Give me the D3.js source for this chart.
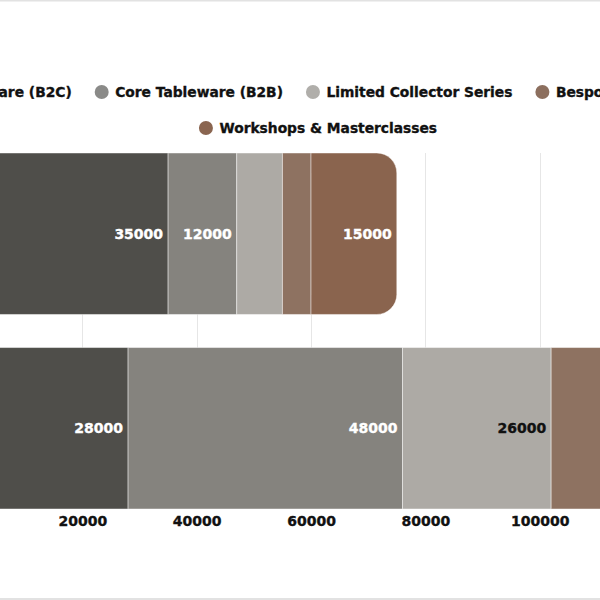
<!DOCTYPE html>
<html>
<head>
<meta charset="utf-8">
<script src="https://cdn.jsdelivr.net/npm/d3@7"></script>
<style>
  html, body { margin: 0; padding: 0; background: #ffffff; overflow: hidden; }
  svg { display: block; }
  text { font-family: "DejaVu Sans", Verdana, sans-serif; font-weight: bold; }
</style>
</head>
<body>
<svg id="chart" width="600" height="600"></svg>
<script>
// ---- data ----
const categories = ["2023", "2024"];
const seriesNames = [
  "Core Tableware (B2C)",
  "Core Tableware (B2B)",
  "Limited Collector Series",
  "Bespoke Wedding Orders",
  "Workshops & Masterclasses"
];
const seriesColors = ["#4f4e4a", "#85837e", "#adaaa5", "#8e7261", "#8a644e"];
const legendColors = ["#4f4e4a", "#8a8a88", "#b0aeaa", "#8c6f5e", "#8a6550"];
const labelColors = ["#ffffff", "#ffffff", "#111111", "#ffffff", "#ffffff"];
const values2023 = [35000, 12000, 8000, 5000, 15000];
const values2024 = [28000, 48000, 26000, 20000, 16000];
const tickValues = [0, 20000, 40000, 60000, 80000, 100000, 120000, 140000];

const svg = d3.select("#chart");
const W = 600, H = 600;

// frame lines
svg.append("line").attr("x1", 0).attr("x2", W).attr("y1", 0.5).attr("y2", 0.5)
  .attr("stroke", "#e2e2e2").attr("stroke-width", 2);
svg.append("line").attr("x1", 0).attr("x2", W).attr("y1", 599).attr("y2", 599)
  .attr("stroke", "#e2e2e2").attr("stroke-width", 2);

const x = d3.scaleLinear().domain([0, 140000]).range([-32, 768.4]);
const y = d3.scaleBand().domain(categories).range([153, 509]).paddingInner(0.17);

// grid
const gridG = svg.append("g");
gridG.selectAll("line").data(tickValues).join("line")
  .attr("x1", d => Math.round(x(d)) + 0.5).attr("x2", d => Math.round(x(d)) + 0.5)
  .attr("y1", 153).attr("y2", 509)
  .attr("stroke", "#e6e6e6").attr("stroke-width", 1);

// x axis (only labels that fall inside the visible window)
const axisG = svg.append("g").attr("transform", "translate(0,509)")
  .call(d3.axisBottom(x).tickValues(tickValues).tickSize(0).tickPadding(7).tickFormat(d3.format("d")));
axisG.select(".domain").remove();
axisG.selectAll("text").attr("font-size", 14).attr("fill", "#111")
  .attr("font-family", "DejaVu Sans").attr("font-weight", "bold")
  .attr("stroke", "#111").attr("stroke-width", 0.35);
axisG.selectAll(".tick").each(function(d) {
  const t = d3.select(this).select("text").node();
  const half = t.getComputedTextLength() / 2;
  if (x(d) - half < 0 || x(d) + half > W) d3.select(this).remove();
});

// stacked data
const rows = categories.map((c, i) => {
  const vals = i === 0 ? values2023 : values2024;
  const o = { cat: c };
  seriesNames.forEach((s, j) => o[s] = vals[j]);
  return o;
});
const stack = d3.stack().keys(seriesNames)(rows);

const barsG = svg.append("g");
const labelsG = svg.append("g");
const R = 20;
stack.forEach((layer, si) => {
  const isLast = si === stack.length - 1;
  layer.forEach(seg => {
    const x0 = x(seg[0]), x1 = x(seg[1]);
    const yy = y(seg.data.cat), h = y.bandwidth();
    if (isLast) {
      const r = Math.min(R, (x1 - x0));
      const p = d3.path();
      p.moveTo(x0, yy);
      p.lineTo(x1 - r, yy);
      p.arcTo(x1, yy, x1, yy + r, r);
      p.lineTo(x1, yy + h - r);
      p.arcTo(x1, yy + h, x1 - r, yy + h, r);
      p.lineTo(x0, yy + h);
      p.closePath();
      barsG.append("path").attr("d", p.toString())
        .attr("fill", seriesColors[si])
        .attr("stroke", "rgba(255,255,255,0.45)").attr("stroke-width", 1);
    } else {
      barsG.append("rect")
        .attr("x", x0).attr("y", yy).attr("width", x1 - x0).attr("height", h)
        .attr("fill", seriesColors[si])
        .attr("stroke", "rgba(255,255,255,0.45)").attr("stroke-width", 1);
    }
    const val = seg[1] - seg[0];
    const t = labelsG.append("text")
      .attr("x", x1 - 5).attr("y", yy + h / 2)
      .attr("text-anchor", "end").attr("dominant-baseline", "central")
      .attr("font-size", 14).attr("fill", labelColors[si])
      .attr("stroke", labelColors[si]).attr("stroke-width", 0.35)
      .text(val);
    const tw = t.node().getComputedTextLength();
    if (tw + 10 > x1 - x0 || x1 - 5 - tw > W) t.remove();
  });
});

// legend: rows centered, circle markers
const legendCenter = 318;
const maxRowWidth = 900;
const circleR = 7, textOff = 13.5, itemGap = 23;
const legendG = svg.append("g");
const items = seriesNames.map((name, i) => {
  const g = legendG.append("g");
  g.append("circle").attr("r", circleR).attr("fill", legendColors[i]);
  const t = g.append("text").attr("x", textOff).attr("dominant-baseline", "central")
    .attr("font-size", 13.8).attr("fill", "#111")
    .attr("stroke", "#111").attr("stroke-width", 0.35).text(name);
  const w = circleR + textOff + t.node().getComputedTextLength();
  return { g, w };
});
const legendRows = [];
let cur = [], curW = 0;
items.forEach(it => {
  const add = (cur.length ? itemGap : 0) + it.w;
  if (cur.length && curW + add > maxRowWidth) { legendRows.push({ items: cur, w: curW }); cur = []; curW = 0; }
  curW += (cur.length ? itemGap : 0) + it.w;
  cur.push(it);
});
if (cur.length) legendRows.push({ items: cur, w: curW });
const rowY = [92, 128];
legendRows.forEach((row, ri) => {
  let xx = legendCenter - row.w / 2;
  row.items.forEach(it => {
    it.g.attr("transform", "translate(" + (xx + circleR) + "," + rowY[ri] + ")");
    xx += it.w + itemGap;
  });
});
</script>
</body>
</html>
